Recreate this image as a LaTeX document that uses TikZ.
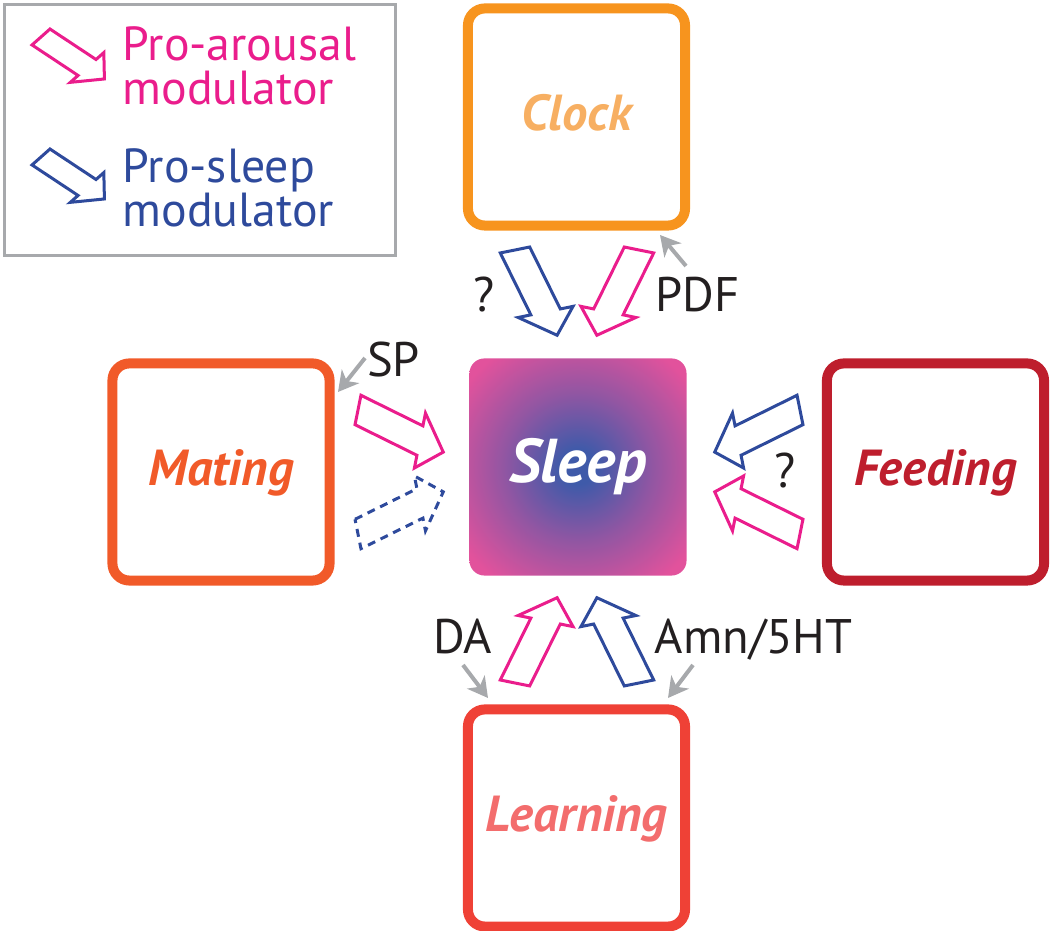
\documentclass[tikz,border=0pt]{standalone}
\usepackage{fontspec}
\setmainfont{PT Sans}
\usetikzlibrary{arrows.meta}

\definecolor{arousal}{HTML}{EA1D8C}
\definecolor{sleepy}{HTML}{2E4A9C}
\definecolor{hintgray}{HTML}{A7A9AC}
\definecolor{ink}{HTML}{231F20}
\definecolor{clockcol}{HTML}{F7941E}
\definecolor{clocktxt}{HTML}{F7AF62}
\definecolor{matingcol}{HTML}{F15A29}
\definecolor{feedcol}{HTML}{BE1E2D}
\definecolor{learncol}{HTML}{EF4136}
\definecolor{learntxt}{HTML}{F36D6D}
\definecolor{sleeppink}{HTML}{E2529C}
\definecolor{sleepblue}{HTML}{3F5AA9}

\pgfdeclareradialshading{sleepglow}{\pgfpoint{0bp}{0bp}}{%
  color(0bp)=(sleepblue); color(4bp)=(sleepblue);
  color(17bp)=(sleepblue!50!sleeppink);
  color(32bp)=(sleeppink); color(50bp)=(sleeppink)}

\begin{document}
\begin{tikzpicture}
        [%%%%%%%%%%%%%%%%%%%%%%%%%%%%%%
        x=0.01cm, y=-0.01cm,
        box/.style={draw, line width=1mm, rounded corners=1.7mm, minimum size=2.17cm,
          inner sep=0pt, text depth=2.8pt, font=\fontsize{14.4}{15}\selectfont\bfseries\itshape},
        sleepbox/.style={shading=sleepglow, rounded corners=1.5mm, minimum size=2.17cm,
          inner sep=0pt, text=white, font=\fontsize{17.6}{19}\selectfont\bfseries\itshape},
        lbl/.style={anchor=base, inner sep=0pt, text=ink, font=\fontsize{13.8}{15}\selectfont},
        legtext/.style={anchor=base west, align=left, inner sep=0pt, font=\fontsize{13.6}{12.4}\selectfont},
        arousalmod/.style={draw=arousal, line width=0.3mm},
        sleepmod/.style={draw=sleepy, line width=0.3mm},
        sleepdash/.style={sleepmod, dash pattern=on 0.8mm off 0.6mm},
        hint/.style={draw=hintgray, line width=0.4mm, -{Stealth[length=2mm,width=2.2mm,inset=0.6mm]}},
        ]%%%%%%%%%%%%%%%%%%%%%%%%%%%%%%
        \useasboundingbox (0,0) rectangle (1050,931);

        % legend
        \draw[hintgray, line width=0.3mm] (4.5,4.5) rectangle (396,256);
        \node[legtext, text=arousal] (legup) at (122,104.5) {Pro-arousal\\modulator};
        \node[legtext, text=sleepy] (legdown) at (122,226.5) {Pro-sleep\\modulator};

        % the four behaviours and sleep
        \node[box, draw=clockcol, text=clocktxt] (clock) at (576.5,117) {Clock};
        \node[box, draw=matingcol, text=matingcol] (mating) at (221,472) {Mating};
        \node[box, draw=feedcol, text=feedcol] (feeding) at (935.5,472) {Feeding};
        \node[box, draw=learncol, text=learntxt] (learning) at (576.5,818) {Learning};
        \node[sleepbox] (sleep) at (578,467) {Sleep};

        % block arrows: tail, shaft direction, end direction, style, scale
        \foreach \tx/\ty/\sx/\sy/\ex/\ey/\st/\sc in {
            515/250/0.443/-0.897/0.980/0.198/sleepmod/1,
            639/250/-0.443/-0.897/0.980/-0.198/arousalmod/1,
            515/683/0.443/0.897/0.980/-0.198/arousalmod/1,
            639/683/-0.443/0.897/0.980/0.198/sleepmod/1,
            358/410/0.897/-0.443/-0.198/-0.980/arousalmod/1,
            358/534/0.897/0.443/0.198/-0.980/sleepdash/1,
            800/410/-0.897/-0.443/0.198/-0.980/sleepmod/1,
            800/534/-0.897/0.443/-0.198/-0.980/arousalmod/1,
            41/37/0.834/-0.552/0.748/0.664/arousalmod/0.8,
            41/157/0.834/-0.552/0.748/0.664/sleepmod/0.8}{
          \draw[\st, shift={(\tx,\ty)}, scale=\sc, x={(\sx*0.1mm,\sy*0.1mm)}, y={(\ex*0.1mm,\ey*0.1mm)}]
            (0,-15) -- (69,-15) -- (69,-28) -- (95,0) -- (69,28) -- (69,15) -- (0,15) -- cycle;
        }

        % modulator labels
        \node[lbl] (qtop) at (484.5,312) {?};
        \node[lbl] (pdf) at (697.5,312) {PDF};
        \node[lbl] (sp) at (393.5,377) {SP};
        \node[lbl] (qright) at (785,488) {?};
        \node[lbl] (da) at (462.5,654) {DA};
        \node[lbl] (amn) at (753.5,654) {Amn/5HT};

        % grey pointers
        \coordinate (pdftail) at (686,266);
        \coordinate (pdfhead) at (660,235);
        \coordinate (sptail) at (365,358);
        \coordinate (sphead) at (338,392);
        \coordinate (datail) at (463,665);
        \coordinate (dahead) at (488,698);
        \coordinate (amntail) at (693,665);
        \coordinate (amnhead) at (668,698);
        \draw[hint] (pdftail) -- (pdfhead);
        \draw[hint] (sptail) -- (sphead);
        \draw[hint] (datail) -- (dahead);
        \draw[hint] (amntail) -- (amnhead);

      \end{tikzpicture}
\end{document}
